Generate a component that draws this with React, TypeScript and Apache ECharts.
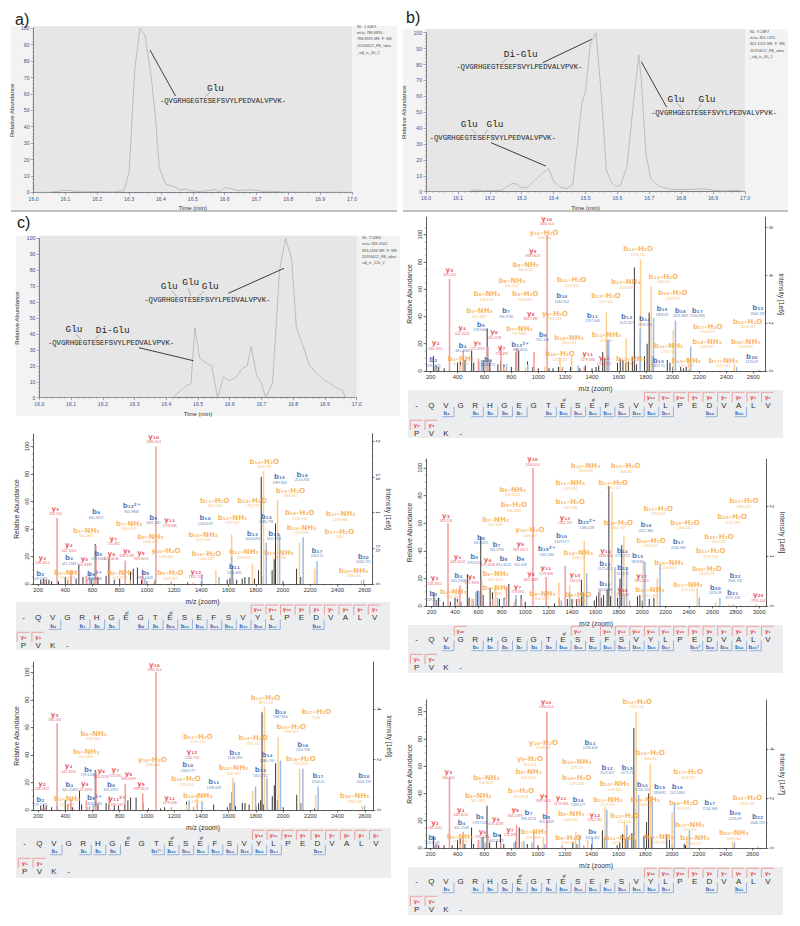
import React, { useEffect, useRef } from "react";
import * as echarts from "echarts";

type Pt = [number, number];
type Lab = [string, string, number, number];

// ---------- chromatograms ----------
const chromA: Pt[] = [[16,0],[16.05,0],[16.08,0.7],[16.1,1.2],[16.12,0.9],[16.14,0.3],[16.2,0.4],[16.25,0.2],[16.284,1],[16.3,12],[16.318,75],[16.334,100],[16.35,96],[16.37,70],[16.383,45],[16.395,15],[16.415,5],[16.44,3.5],[16.46,1.5],[16.478,2],[16.49,1],[16.52,0.5],[16.55,1],[16.57,1.8],[16.585,0.3],[16.6,2.8],[16.62,2.3],[16.64,1],[16.68,1.5],[16.72,0.6],[16.75,0.6],[16.8,0.1],[17,0]];
const chromB: Pt[] = [[16,0],[16.13,0],[16.155,1.2],[16.18,0.5],[16.22,0.9],[16.235,0.7],[16.27,5.2],[16.285,4.8],[16.3,2.3],[16.32,3],[16.34,7],[16.37,12.5],[16.385,14.5],[16.4,6.5],[16.42,3],[16.44,2],[16.46,4.5],[16.475,30],[16.488,55],[16.5,63],[16.515,93],[16.533,100],[16.55,60],[16.565,14],[16.58,6],[16.595,3.3],[16.61,4],[16.63,16],[16.65,55],[16.667,86],[16.675,70],[16.69,23],[16.705,8],[16.73,3.5],[16.77,1.3],[16.8,1.2],[16.87,1.8],[16.9,1],[16.93,0.4],[16.97,1],[16.985,0.4],[17,0]];
const chromC: Pt[] = [[16,0],[16.42,0],[16.46,7],[16.478,9],[16.49,44],[16.505,25],[16.52,22.5],[16.543,20],[16.562,0],[16.58,13],[16.6,10.5],[16.62,13],[16.64,18.5],[16.655,20],[16.667,32],[16.685,14],[16.7,9],[16.713,0],[16.735,9],[16.757,80],[16.776,100],[16.795,87],[16.81,44],[16.83,33],[16.85,21],[16.87,16],[16.9,10.5],[16.91,10],[16.93,7],[16.955,4.5],[16.965,0],[17,0]];

const infoA = ["NL: 1.60E9", "m/z= 788.8859-", "788.8935 MS  F: MS", "20190612_FB_sdea", "_sdj_tc_60_2"];
const infoB = ["NL: 9.24E7", "m/z= 801.1475-", "801.1555 MS  F: MS", "20190612_FB_sdea", "_sdj_tc_60_2"];
const infoC = ["NL: 7.02E6", "m/z= 833.4102-", "833.4186 MS  F: MS", "20190612_FB_sdea", "sdj_tc_120_2"];
const peptide = "-QVGRHGEGTESEFSVYLPEDVALVPVK-";

// ---------- spectrum 1 (top right) ----------
const s1Black: Pt[] = [[220,11],[240,4],[260,3],[300,2],[340,2],[400,6],[420,7],[455,8],[505,15],[520,6],[560,5],[590,8],[620,31],[640,7],[700,5],[720,7],[745,5],[800,3],[835,14],[855,15],[920,7],[960,3],[1000,2],[1080,2],[1110,2],[1150,3],[1180,2],[1240,3],[1310,2],[1350,4],[1400,2],[1430,3],[1450,4],[1480,14],[1495,9],[1590,6],[1610,9],[1630,8],[1650,6],[1670,7],[1700,10],[1715,76],[1730,5],[1790,11],[1810,20],[1825,43],[1845,11],[1960,8],[1980,6],[2000,3],[2060,3],[2080,2],[2100,3],[2130,1]];
const s1Red: Pt[] = [[246,3],[340,67.6],[442,15],[555,9],[626,18],[723,19],[840,17],[969,14],[1066,100],[1179,2],[1342,3]];
const s1Blue: Pt[] = [[229,3],[441,6],[578,8],[603,8],[764,5],[922,5],[1180,3],[1297,4],[1514,23],[1525,23],[1758,31],[1858,39],[2021,37],[2134,18],[2476,3],[2646,0.7]];
const s1Orange: Pt[] = [[423,4],[561,7],[618,4],[747,3],[905,3],[1048,3],[1162,10],[1249,11],[1507,43],[1655,24],[1761,82],[1840,62],[2005,30],[2116,10],[2459,5],[2628,0.5]];
const s1Labels: Lab[] = [
["y₁₀","1066.614",1063,110.3],["y₁₀–H₂O","1048.604",1043,99.8],["y₉","969.5613",959,86.8],["b₈–NH₃","905.4224",907,76.5],["b₈–NH₃","804.3747",805,64.7],["b₆–NH₃","618.3107",619,54.9],["b₈–H₂O","904.4384",904,54.7],["y₃","340.234",339,73],["b₅–NH₃","561.2892",562,42.2],["b₇","764.3790",760,42.4],["y₈","840.5189",944,40.4],["y₉–H₂O","951.551",1125,40.4],["b₁₀","1180.554",1175,53.4],["b₁₁–H₂O","1249.556",1249,65.2],["b₁₃–NH₃","1655.693",1651,63.5],["b₁₂–H₂O","1507.641",1504,53.4],["b₁₄–H₂O","1761.741",1743,88],["b₁₅–H₂O","1840.81",1931,67.6],["b₁₆–H₂O","2005.875",2000,55.4],["b₁₁","1297.566",1403,39.2],["b₁₂","1525.657",1658,38],["b₁₄","1758.752",1792,36.5],["b₁₅","1858.82",1921,44],["b₁₆","2021.884",2057,42.6],["b₁₇","2134.968",2184,42.6],["b₂₂","2646.195",2633,44.6],["b₂₂–H₂O","2628.185",2558,34.6],["b₁₇–H₂O","2116.957",2261,30.9],["b₁₈–NH₃","2204.957",2256,20],["b₂₀–NH₃","2459.064",2543,20],["b₂₀","2476.09",2588,9],["b₁₇–NH₃","2117.941",2377,6],["b₁₅–NH₃","1841.786",2100,6],["b₁₅","1822.70",1894,6],["b₁₄–NH₃","1742.725",1968,16.7],["b₁₁–NH₃","1250.54",1507,24.8],["b₁₀–NH₃","1163.558",1229,22.8],["b₁₀–H₂O","1162.524",1162,11],["y₁₁","1179.686",1368,11],["y₁₂","1342.762",1490,8],["b₁₂–NH₃","1508.61",1688,7.6],["b₁₃²⁺","839.9605",865,17.9],["b₇–NH₃","747.8583",860,29.4],["b₉","922.449",1033,25.2],["y₇","723.492",728,15.2],["y₆","626.4238",671,27],["b₅","578.6168",572,32.4],["y₄","442.3024",433,30],["y₅","555.3393",547,19],["b₄","441.2568",436,17],["y₂","246.1812",237,19],["b₂","229.1545",220,6.4],["b₄–NH₃","424.2303",423,7.4],["b₆","603.3372",627,6.9]];
const s1BIons: Pt[] = [[2,2],[4,4],[5,5],[6,6],[7,7],[9,9],[10,10],[11,11],[12,12],[13,13],[14,14],[15,15],[16,16],[17,17],[20,20],[22,22]];

// ---------- spectrum 2 (middle left) ----------
const s2Black: Pt[] = [[220,3],[240,4],[260,3],[280,3],[300,2],[350,2],[400,5],[420,3],[480,4],[500,14],[530,5],[590,4],[620,29],[640,5],[700,6],[720,18],[760,3],[800,4],[880,9],[900,11],[930,12],[960,3],[1000,2],[1060,3],[1300,1],[1400,2],[1590,3],[1610,4],[1620,6],[1630,13],[1660,3],[1700,4],[1720,5],[1750,5],[1790,4],[1820,10],[1840,78],[1855,5],[1920,10],[1935,18],[1945,44],[1960,7],[2000,2],[2100,11],[2130,5],[2230,1.5]];
const s2Red: Pt[] = [[246,3],[340,48],[442,10],[555,6],[626,28],[725,20],[840,17],[969,10],[1066,100],[1179,2],[1342,1]];
const s2Blue: Pt[] = [[229,2],[441,5],[578,8],[605,5],[985,4],[1051,1],[1405,7],[1530,5],[1622,20],[1634,4],[1877,30],[1975,36],[2148,34],[2250,16.5],[2592,3]];
const s2Orange: Pt[] = [[424,3],[561,4],[618,3],[876,3],[1004,2],[1507,10],[1623,36],[1775,15],[1857,82],[1960,61],[2121,30],[2233,11],[2575,2.5]];
const s2Labels: Lab[] = [
["y₁₀","1066.614",1050,105.6],["b₁₄–H₂O","1870.794",1862,87.4],["b₁₅","1987.864",1975,76.2],["b₁₆","2150.926",2141,77.9],["b₁₅–H₂O","1969.852",2055,66.3],["b₁₁–H₂O","1507.641",1499,59],["b₁₃–H₂O","1755.752",1774,59.2],["b₁₆–H₂O","2132.916",2123,50],["b₁₇–NH₃","2249.984",2424,49.3],["b₁₄","1886.794",1877,47.3],["b₁₂–NH₃","1637.667",1628,46.6],["y₁₁","1179.686",1167,44.9],["b₁₀","1405.619",1428,46.4],["b₉","1051.492",1047,46.8],["b₁₃²⁺","901.9848",888,55],["b₆","605.3372",627,50.7],["y₃","340.234",327,53.4],["b₇–NH₃","876.3909",869,42.5],["b₅–NH₃","561.2892",554,37.4],["b₈–NH₃","1004.465",1025,32.8],["b₁₀–NH₃","1421.595",1413,34.5],["b₁₇–H₂O","2246",2414,36.4],["b₁₅–NH₃","1970.836",2136,39.6],["b₁₂","1634.694",1775,35],["b₁₃","1801.752",1933,35],["y₇","725.492",754,31.6],["y₄","442.3024",427,26.7],["y₁₀–H₂O","1048.604",1140,22.3],["b₁₁–NH₃","1509.625",1713,21.6],["b₁₀–H₂O","1420.609",1438,20.6],["b₁₃–NH₃","1784.768",1970,21.1],["y₈","840.5189",852,22.6],["y₆","626.4238",739,20.6],["b₅","578.6168",642,20.6],["y₉","969.5613",957,20.9],["b₄","441.2568",427,17.2],["y₅","555.3393",542,16.7],["y₂","246.1812",232,17.5],["b₁₇","2264.01",2250,22.8],["b₂₀","2605.192",2590,18.2],["b₂₀–NH₃","2588.166",2517,8],["b₈","985.4409",988,6.6],["b₆–NH₃","618.3107",803,6.8],["b₉–H₂O","1033.481",1172,6.3],["y₁₂","1342.762",1360,7.3],["b₁₁","1622.681",1643,10.9],["b₂","229.1545",217,6],["b₄–NH₃","424.2303",415,6.6],["b₆²⁺","303.6684",615,6]];
const s2BIons: Pt[] = [[2,2],[4,4],[5,5],[6,6],[8,8],[9,9],[10,10],[11,11],[12,12],[13,13],[14,14],[15,15],[16,16],[17,17],[20,20]];

// ---------- spectrum 3 (middle right) ----------
const s3Black: Pt[] = [[220,10],[240,4],[260,6],[300,3],[360,3],[400,6],[420,5],[450,3],[505,23],[520,6],[590,11],[620,50],[640,8],[700,13],[720,10],[745,13],[780,5],[820,6],[860,16],[920,5],[965,8],[1000,3],[1250,2],[1290,6],[1360,5],[1400,5],[1440,5],[1480,19],[1495,10],[1590,4],[1610,7],[1630,10],[1650,6],[1670,8],[1700,12],[1715,87],[1730,7],[1790,6],[1810,20],[1825,44],[1845,8],[1960,7],[1980,8],[2000,4],[2060,5],[2100,6],[2130,2]];
const s3Red: Pt[] = [[246,3],[340,60],[442,15],[555,5],[626,20],[723,5],[840,14],[969,5],[1066,100],[1179,21],[1342,29],[1461,6],[1638,12],[1892,4],[2976,1]];
const s3Blue: Pt[] = [[229,3],[441,3],[578,10],[605,11],[764,6],[821,5],[922,8],[1181,3],[1309,4],[1380,10],[1525,24],[1767,28],[1867,28],[2023,32],[2152,30],[2488,6],[2664,6],[2778,1]];
const s3Orange: Pt[] = [[424,3],[540,5],[747,13],[905,3],[1288,17],[1380,15],[1505,47],[1741,83],[1843,51],[2009,32],[2129,20],[2470,13],[2628,3],[2741,1],[2840,1]];
const s3Labels: Lab[] = [
["y₁₀","1066.614",1063,104.8],["b₁₂–NH₃","1509.625",1516,100],["b₁₅–H₂O","1840.81",1858,99.8],["b₁₁–NH₃","1479.592",1385,87.4],["b₁₄–H₂O","1741.741",1753,87.9],["b₈–NH₃","905.4224",892,82.8],["b₈–H₂O","904.4384",904,71.4],["b₁₁–H₂O","1479.598",1385,73.8],["b₂₄–H₂O","2840.027",2870,74.3],["b₁₇–H₂O","2116.957",2137,69],["b₂₃–H₂O","2741.299",2770,63],["y₃","340.234",322,63.9],["b₇–NH₃","747.3585",747,61],["y₁₂","1342.762",1340,62.5],["b₂₃²⁺","1380.148",1525,59.3],["b₁₃–H₂O","1656.709",1795,58.8],["b₁₈–H₂O","2345.052",2365,59],["b₁₆","2021.884",2032,56.9],["y₁₀–H₂O","1048.604",1040,53.5],["b₁₀","1309.577",1311,49.2],["b₂₂–H₂O","2628.185",2656,48.7],["b₆","605.3372",622,47.9],["b₇","764.3790",755,43],["b₁₆–H₂O","2005.875",2075,45.8],["b₁₇","2134.968",2308,44.8],["y₉","969.5613",958,43.3],["b₁₉²⁺","1181.083",1183,39.5],["b₁₄","1758.752",1830,38.7],["b₂₁–H₂O","2557.148",2585,38.3],["y₁₄","1638.860",1687,38.7],["b₁₀–NH₃","1292.53",1454,37],["b₅","578.6158",565,33.9],["b₈","821.4013",815,32.4],["b₉","922.449",958,32.4],["y₆","626.4238",679,32],["y₄","442.3024",422,34.4],["b₁₅","1858.82",1961,34.6],["b₁₂","1525.651",1681,29],["b₁₈–NH₃","2204.957",2228,30],["b₁₃","1675.72",1832,26],["y₁₁","1179.686",1177,25.9],["b₂₀–H₂O","2458.079",2553,25.7],["y₈","840.5189",1049,21.5],["b₄","441.2568",428,20.6],["y₅","555.3393",542,19.4],["y₂","246.1812",226,18.6],["y₁₃","1461.8",1425,20.8],["y₁₇","1892.005",1995,20.6],["b₂₂","2646.195",2793,20.6],["b₁₇–NH₃","2117.941",2391,13.8],["y₇","723.492",935,12.6],["b₁₁","1513.668",1681,14.3],["b₂₀","2476.09",2624,11.9],["b₂₁","2575.158",2773,8.2],["y₂₅","2976.440",2992,6.3],["b₂","229.1545",214,7],["b₄–NH₃","424.2303",385,9],["b₅–NH₃","561.2892",747,11.4],["b₆–NH₃","618.3107",747,21.5],["b₈–NH₃","804.3747",1146,7.5],["b₁₅–NH₃","1841.786",2066,9.9],["y₁₅","1651.88",1832,10.4],["b₉–H₂O","1033.481",1454,6.5]];
const s3BIons: Pt[] = [[2,2],[4,4],[5,5],[6,6],[7,7],[8,8],[9,9],[10,10],[11,11],[12,12],[13,13],[14,14],[15,15],[16,16],[17,17],[19,19],[20,20],[21,21],[22,22],[23,23]];

// ---------- spectrum 4 (bottom left) ----------
const s4Black: Pt[] = [[220,3],[240,4],[260,3],[300,2],[340,3],[400,7],[420,4],[455,2],[505,14],[520,4],[560,2],[620,29],[640,4],[700,5],[720,4],[760,3],[790,3],[835,4],[860,7],[880,9],[920,9],[970,5],[1010,1],[1100,1],[1130,2],[1290,6],[1370,5],[1490,4],[1590,2],[1610,5],[1625,13],[1650,3],[1700,5],[1720,5],[1750,4],[1800,3],[1820,5],[1835,7],[1845,71],[1855,4],[1920,10],[1935,18],[1945,34],[1960,7],[2000,2],[2100,11],[2130,5],[2230,1]];
const s4Red: Pt[] = [[246,2],[340,63],[442,8],[555,7],[626,28],[723,10],[840,19],[969,12],[1066,100],[1179,2],[1342,2]];
const s4Blue: Pt[] = [[229,1],[441,3],[578,3],[605,4],[1309,7],[1405,6],[1642,20],[1797,17],[1882,23],[1980,36],[2145,30],[2257,17],[2598,3]];
const s4Orange: Pt[] = [[424,3],[561,2],[618,2],[1291,4],[1368,12],[1630,23],[1775,14],[1863,75],[1963,53],[2122,30],[2238,11],[2580,3]];
const s4Labels: Lab[] = [
["y₁₀","1066.614",1055,104],["b₁₄–H₂O","1870.794",1870,80],["y₃","340.234",322,67.6],["b₁₅","1987.864",1980,70],["b₁₇–H₂O","2246",2245,69.5],["b₁₅–H₂O","1969.852",2059,59],["b₆–NH₃","618.3107",609,54],["b₁₁–H₂O","1575.590",1375,51.6],["b₁₃–H₂O","1755.752",1780,50.6],["b₅–NH₃","561.2892",553,40.9],["y₁₂","1342.762",1331,40.4],["b₁₂","1634.694",1645,40],["b₁₆","2150.926",2144,45.8],["b₁₄","1886.794",1882,38.3],["b₁₆–H₂O","2132.916",2130,35.8],["y₁₀–H₂O","1048.604",1040,34.9],["b₁₀","1309.577",1300,31.2],["b₁₂–NH₃","1637.667",1635,29],["b₅","578.6168",567,27.8],["y₆","626.4238",665,26.6],["y₇","723.492",768,27.6],["y₈","840.5189",864,24.9],["b₁₃","1801.752",1833,27.4],["b₁₇","2264.01",2257,23],["b₂₀","2605.192",2593,23],["b₁₀–H₂O","1291.566",1287,21],["b₁₁","1496.609",1491,18.6],["b₄","441.2568",430,17],["y₅","555.3393",543,17.2],["b₆","605.3372",736,17],["y₂","246.1812",229,17.7],["y₉","969.5613",957,17.7],["y₄","442.3024",425,30.3],["b₂₀–NH₃","2588.166",2524,8.5],["b₁₀–NH₃","1292.55",1373,8.5],["b₄–NH₃","424.2303",413,6.5],["b₂","229.1545",217,6],["b₈²⁺","303.6684",614,7],["y₁₁","1179.686",1167,7.3],["y₁₁²⁺","590.347",780,6.5]];
const s4BIons: Pt[] = [[2,2],[4,4],[5,5],[6,6],[9,9],[10,10],[11,11],[12,12],[13,13],[14,14],[15,15],[16,16],[17,17],[20,20]];

// ---------- spectrum 5 (bottom right) ----------
const s5Black: Pt[] = [[220,9],[240,3],[260,2],[300,2],[360,2],[400,6],[420,7],[455,3],[505,15],[520,3],[590,8],[620,31],[640,4],[690,5],[720,10],[745,3],[835,5],[860,15],[920,3],[1000,2],[1260,4],[1290,3],[1400,3],[1480,13],[1495,8],[1590,2],[1610,4],[1630,10],[1650,7],[1670,8],[1700,11],[1715,88],[1730,6],[1790,9],[1810,19],[1825,40],[1845,8],[1960,10],[1980,6],[2000,3],[2090,3],[2100,2]];
const s5Red: Pt[] = [[246,3],[340,52],[442,12],[555,6],[626,8],[723,4],[840,17],[969,12],[1066,100],[1179,2],[1342,2]];
const s5Blue: Pt[] = [[229,2],[441,3],[578,8],[605,4],[821,4],[895,5],[955,4],[1051,3],[1309,9],[1405,8],[1513,28],[1662,17],[1750,39],[1852,38],[2017,33],[2129,13],[2465,4],[2642,1]];
const s5Orange: Pt[] = [[424,3],[560,6],[880,5],[1040,8],[1281,12],[1371,6],[1500,30],[1645,19],[1732,100],[1837,62],[2000,26],[2110,9],[2450,5]];
const s5Labels: Lab[] = [
["y₁₀","1066.614",1060,105.9],["b₁₄–H₂O","1761.741",1740,105.9],["b₁₁","1496.609",1389,75.7],["y₁₀–H₂O","1048.604",1040,75.7],["b₁₅–H₂O","1840.81",1837,67.9],["y₉–H₂O","951.551",940,63.7],["b₁₀–NH₃","1292.55",1289,61.5],["b₁₇–H₂O","2116.957",2119,54.2],["b₈–NH₃","905.4175",930,54.2],["b₁₂","1525.657",1516,57.4],["b₁₃","1675.72",1665,57.4],["b₁₀–H₂O","1291.566",1289,49.8],["b₆–NH₃","618.3107",616,50.2],["b₁₂–NH₃","1509.625",1571,45.3],["b₁₄","1758.752",1777,44.9],["b₁₅","1858.82",1907,43.1],["b₁₆","2021.884",2039,43.1],["y₃","340.234",332,54.2],["b₅–NH₃","561.2892",554,37],["b₇–H₂O","875.4718",873,40],["y₉","969.5613",1042,36.8],["y₁₁","1179.686",1172,35],["b₁₀","1309.577",1299,34],["b₁₁–NH₃","1479.592",1521,33.8],["b₁₃–NH₃","1658.693",1800,33.8],["b₂₂–H₂O","2628.185",2562,35],["b₁₆–H₂O","2005.875",2086,31.4],["b₁₇","2134.968",2281,31.4],["y₈","840.5189",830,26.2],["y₄","442.3024",424,26.5],["b₇","895.4224",930,24],["b₈–NH₃","1004.465",1247,23.3],["b₂₀","2476.09",2468,24],["b₁₂–H₂O","1507.641",1648,22],["y₁₂","1342.762",1424,22.8],["b₅","578.7158",566,21],["y₆","626.4238",686,20],["b₈","955.4409",1062,21.3],["b₂₂","2646.195",2637,21],["b₄","441.2568",429,17.2],["y₂","246.1812",232,16.9],["y₇","723.492",791,11.8],["y₅","555.3393",586,10.5],["b₁₇–NH₃","2117.941",2131,15.7],["b₉","1051.492",1404,10],["b₇–NH₃","876.3909",968,10],["b₂₀–NH₃","2459.064",2460,9.3],["b₆","605.3372",691,8],["b₁₈–NH₃","2204.957",2169,5.6],["b₄–NH₃","424.2303",417,6.9],["b₂","229.1545",212,5.9],["b₉–H₂O","1033.481",1227,5.9],["b₁₁–H₂O","1479.598",1608,5.9],["b₁₄–NH₃","1742.794",1902,6.4]];
const s5BIons: Pt[] = [[2,2],[4,4],[5,5],[6,6],[7,7],[8,8],[9,9],[10,10],[11,11],[12,12],[13,13],[14,14],[15,15],[16,16],[17,17],[20,20],[22,22]];

// ---------- sequence strip ----------
const seqRow1 = "-QVGRHGEGTESEFSVYLPEDVALV";
const seqRow2 = "PVK-";
const subs = "₀₁₂₃₄₅₆₇₈₉";
const sub = (n: number) => String(n).split("").map((d) => subs[+d]).join("");
const yIonsCommon: Pt[] = [[16,12],[17,11],[18,10],[19,9],[20,8],[21,7],[22,6],[23,5],[24,4]];
const yIonsS3: Pt[] = [[3,25],[11,17],[13,15],[14,14],[15,13],[16,12],[17,11],[18,10],[19,9],[20,8],[21,7],[22,6],[23,5],[24,4]];

const FONT = "Liberation Sans";
const C = { red: "#f59a9a", blue: "#9db9e2", orange: "#ffcf91", black: "#222222" };

const spectra = [
  { black: s1Black, red: s1Red, blue: s1Blue, orange: s1Orange, labels: s1Labels, bIons: s1BIons, yIons: yIonsCommon, mods: [10, 12], bSuffix: {} as Record<number, string>,
    left: 426, right: 765, top: 217, base: 371, xMin: 165, xMax: 2687, yMax: 113, rMax: 6.45, rStep: 0.5, rTicks: [0, 2, 4, 6], rName: "Intensity [1e6]", xTicks: 2600,
    px: 408, pw: 375, py: 390, ph: 48, x0: 416.7, r1: 405, r2: 433 },
  { black: s2Black, red: s2Red, blue: s2Blue, orange: s2Orange, labels: s2Labels, bIons: s2BIons, yIons: yIonsCommon, mods: [7, 10], bSuffix: {},
    left: 33, right: 372, top: 434, base: 584, xMin: 163, xMax: 2654, yMax: 109, rMax: 2.1, rStep: 0.1, rTicks: [0, 0.5, 1, 1.5, 2], rName: "Intensity [1e6]", xTicks: 2600,
    px: 16, pw: 374, py: 602, ph: 48, x0: 23.5, r1: 617.7, r2: 645 },
  { black: s3Black, red: s3Red, blue: s3Blue, orange: s3Orange, labels: s3Labels, bIons: s3BIons, yIons: yIonsS3, mods: [10], bSuffix: { 19: "²", 23: "²" },
    left: 426, right: 766, top: 459, base: 606, xMin: 152, xMax: 3058, yMax: 106.5, rMax: 2.95, rStep: 0.25, rTicks: [0, 1, 2], rName: "Intensity [1e6]", xTicks: 3000,
    px: 408, pw: 375, py: 625, ph: 48, x0: 416.7, r1: 639, r2: 667 },
  { black: s4Black, red: s4Red, blue: s4Blue, orange: s4Orange, labels: s4Labels, bIons: s4BIons, yIons: yIonsCommon, mods: [7, 10, 12], bSuffix: { 9: "²⁺" },
    left: 33, right: 373, top: 662, base: 810, xMin: 163, xMax: 2660, yMax: 107.5, rMax: 5.87, rStep: 0.5, rTicks: [0, 2, 4], rName: "Intensity [1e6]", xTicks: 2600,
    px: 16, pw: 375, py: 828, ph: 50, x0: 24.7, r1: 843, r2: 871 },
  { black: s5Black, red: s5Red, blue: s5Blue, orange: s5Orange, labels: s5Labels, bIons: s5BIons, yIons: yIonsCommon, mods: [7, 10], bSuffix: {},
    left: 426, right: 766, top: 700, base: 848, xMin: 165, xMax: 2700, yMax: 108.6, rMax: 5.97, rStep: 0.5, rTicks: [0, 2, 4], rName: "Intensity [1e7]", xTicks: 2600,
    px: 408, pw: 375, py: 867, ph: 48, x0: 416.7, r1: 881, r2: 909 },
];

const chroms = [
  { data: chromA, left: 33.5, right: 352, top: 28.3, base: 192.3, shadeTop: 26, ox: 11, oy: 26, ow: 386, oh: 185, info: infoA, ix: 357, iy: [27.3, 33.3, 39.3, 46, 52.7] },
  { data: chromB, left: 426, right: 745, top: 32.7, base: 191.7, shadeTop: 29, ox: 403, oy: 29, ow: 385, oh: 182, info: infoB, ix: 750, iy: [31.7, 38.3, 44.3, 50.7, 57.3] },
  { data: chromC, left: 39.3, right: 356.7, top: 238.3, base: 397.7, shadeTop: 235.7, ox: 16, oy: 235.7, ow: 384, oh: 180, info: infoC, ix: 362, iy: [237.7, 244, 250.7, 257.3, 263.3] },
];

// annotation texts and leader lines of the chromatograms
const glycoTags: [string, number, number][] = [
  ["Glu", 215.5, 88], ["Di-Glu", 520.7, 54], ["Glu", 469.3, 124], ["Glu", 495, 124.3], ["Glu", 676, 99], ["Glu", 707, 99.7],
  ["Glu", 169.3, 286], ["Glu", 190.7, 282.7], ["Glu", 210.3, 286.3], ["Glu", 74, 329.3], ["Di-Glu", 112.7, 330.3],
];
const peptideTags: [number, number][] = [[223, 101], [519.3, 67.3], [492.7, 137.7], [714, 113.3], [207.3, 300], [111, 343.3]];
const leaders: [number, number, number, number][] = [
  [150, 50, 175.5, 96], [591.7, 39.3, 542.7, 62.7], [491, 142.7, 545.7, 166], [641.3, 61.7, 666.7, 107.3], [284, 268.3, 228.3, 293.3], [139, 347.7, 193.3, 360.7],
];
const ticksThin: [number, number, number, number][] = [
  [210, 92, 205, 97], [506.7, 59, 501.7, 63.3], [471.7, 129.3, 476, 134], [487.3, 130, 485, 134], [677.3, 103.3, 682.3, 109], [701, 104.3, 697.3, 109.3],
  [171.7, 290.7, 176, 295.7], [188.3, 288.3, 190.7, 295.7], [204, 291, 199.3, 295.7], [76, 334, 81, 339.3], [99.3, 335, 95, 339.3],
];
const panelTags: [string, number, number][] = [["a)", 15, 19], ["b)", 406, 17], ["c)", 17, 222]];

function barSeries(data: Pt[], color: string, w: number, axis: number, yAxis: number, z: number) {
  return {
    type: "custom", xAxisIndex: axis, yAxisIndex: yAxis, z, silent: true, clip: false, data,
    encode: { x: 0, y: 1 },
    renderItem: (_p: any, api: any) => {
      const top = api.coord([api.value(0), api.value(1)]);
      const bot = api.coord([api.value(0), 0]);
      return { type: "rect", shape: { x: top[0] - w / 2, y: top[1], width: w, height: bot[1] - top[1] }, style: { fill: color } };
    },
  };
}

function labelSeries(labels: Lab[], color: string, axis: number, yAxis: number) {
  return {
    type: "scatter", xAxisIndex: axis, yAxisIndex: yAxis, z: 6, silent: true, symbolSize: 0, clip: false,
    data: labels.map((l) => ({ value: [l[2], l[3]], nm: l[0], mz: l[1] })),
    label: {
      show: true, position: "inside", offset: [0, 2],
      formatter: (p: any) => `{n|${p.data.nm}}\n{m|${p.data.mz}}`,
      rich: {
        n: { fontFamily: "DejaVu Sans", fontWeight: "bold", fontSize: 7, lineHeight: 7, color, align: "center" },
        m: { fontFamily: FONT, fontSize: 3.5, lineHeight: 4, color, align: "center" },
      },
    },
    labelLayout: { hideOverlap: false },
  };
}

function range(from: number, to: number, step: number) {
  const out: number[] = [];
  const n = Math.floor((to - from) / step + 1e-6);
  for (let k = 0; k <= n; k++) out.push(from + k * step);
  return out;
}

function buildOption() {
  const grid: any[] = [], xAxis: any[] = [], yAxis: any[] = [], series: any[] = [], g: any[] = [];
  const textEl = (text: string, x: number, y: number, font: string, fill: string, align = "center", z = 20) => ({
    type: "text", z, silent: true, style: { text, x, y, font, fill, textAlign: align, textVerticalAlign: "middle" },
  });
  const lineEl = (a: number[], stroke: string, lw: number, z = 20) => ({
    type: "line", z, silent: true, shape: { x1: a[0], y1: a[1], x2: a[2], y2: a[3] }, style: { stroke, lineWidth: lw },
  });

  chroms.forEach((c, i) => {
    grid.push({ left: c.left, top: c.top, width: c.right - c.left, height: c.base - c.top });
    const blue = "#44508f";
    xAxis.push({
      gridIndex: i, type: "value", min: 16, max: 17, interval: 0.1, splitLine: { show: false },
      name: "Time (min)", nameLocation: "middle", nameGap: 13, nameTextStyle: { fontFamily: FONT, fontSize: 6, color: "#333" },
      axisLine: { lineStyle: { color: "#555", width: 0.7 } }, axisTick: { length: 2.5, lineStyle: { color: blue, width: 0.5 } },
      minorTick: { show: true, splitNumber: 5, length: 1.2, lineStyle: { color: blue, width: 0.4 } },
      axisLabel: { fontFamily: FONT, fontSize: 5.1, color: blue, margin: 4, formatter: (v: number) => v.toFixed(1), showMinLabel: true, showMaxLabel: true },
    });
    yAxis.push({
      gridIndex: i, type: "value", min: 0, max: 100, interval: 10, splitLine: { show: false },
      name: "Relative Abundance", nameLocation: "middle", nameGap: 19, nameRotate: 90, nameTextStyle: { fontFamily: FONT, fontSize: 6, color: "#333" },
      axisLine: { show: true, lineStyle: { color: "#555", width: 0.7 } }, axisTick: { length: 2.5, lineStyle: { color: blue, width: 0.5 } },
      minorTick: { show: true, splitNumber: 5, length: 1.2, lineStyle: { color: blue, width: 0.4 } },
      axisLabel: { fontFamily: FONT, fontSize: 5.1, color: blue, margin: 4 },
    });
    series.push({
      type: "line", xAxisIndex: i, yAxisIndex: i, data: c.data, symbol: "none", silent: true, z: 3,
      lineStyle: { color: "#aaaaaa", width: 0.7 },
    });
    g.push({ type: "rect", z: -2, silent: true, shape: { x: c.ox, y: c.oy, width: c.ow, height: c.oh }, style: { fill: "#f3f3f3" } });
    g.push({ type: "rect", z: -1, silent: true, shape: { x: c.left, y: c.shadeTop, width: c.right - c.left, height: c.base - c.shadeTop }, style: { fill: "#e6e6e6" } });
    c.info.forEach((t, k) => g.push(textEl(t, c.ix, c.iy[k], `3.8px "${FONT}"`, "#555", "left")));
  });
  g.push(lineEl([11, 211, 397, 211], "#8a8a8a", 1, -1), lineEl([403, 211, 788, 211], "#8a8a8a", 1, -1));

  const nC = chroms.length, nS = spectra.length;
  spectra.forEach((s, k) => {
    const i = nC + k;
    grid.push({ left: s.left, top: s.top, width: s.right - s.left, height: s.base - s.top });
    const ticks = range(200, s.xTicks, 200);
    xAxis.push({
      gridIndex: i, type: "value", min: s.xMin, max: s.xMax, splitLine: { show: false },
      name: "m/z (zoom)", nameLocation: "middle", nameGap: 14, nameTextStyle: { fontFamily: FONT, fontSize: 6.8, color: "#333" },
      axisLine: { lineStyle: { color: "#333", width: 0.8 } },
      axisTick: { customValues: ticks, length: 2.5, lineStyle: { color: "#333", width: 0.6 } },
      axisLabel: { customValues: ticks, formatter: (v: number) => String(v), fontFamily: FONT, fontSize: 5.8, color: "#333", margin: 3 },
    });
    const yt = range(0, 100, 20);
    yAxis.push({
      gridIndex: i, type: "value", min: 0, max: s.yMax, splitLine: { show: false },
      name: "Relative Abundance", nameLocation: "middle", nameGap: 13, nameRotate: 90, nameTextStyle: { fontFamily: FONT, fontSize: 6.7, color: "#333" },
      axisLine: { show: true, lineStyle: { color: "#333", width: 0.8 } },
      axisTick: { customValues: yt, length: 2.5, lineStyle: { color: "#333", width: 0.6 } },
      axisLabel: { customValues: yt, rotate: 90, fontFamily: FONT, fontSize: 5.8, color: "#333", margin: 3 },
    });
    series.push(barSeries(s.black, C.black, 0.9, i, i, 3));
    series.push(barSeries(s.orange, C.orange, 1.5, i, i, 4));
    series.push(barSeries(s.blue, C.blue, 1.5, i, i, 4));
    series.push(barSeries(s.red, C.red, 1.5, i, i, 5));
    const isRed = (l: Lab) => l[0][0] === "y" && !l[0].includes("–");
    const isBlue = (l: Lab) => l[0][0] === "b" && !l[0].includes("–");
    series.push(labelSeries(s.labels.filter((l) => l[0].includes("–")), "#f9a63c", i, i));
    series.push(labelSeries(s.labels.filter(isBlue), "#2c5aa8", i, i));
    series.push(labelSeries(s.labels.filter(isRed), "#e3303c", i, i));

    // sequence strip
    g.push({ type: "rect", z: -1, silent: true, shape: { x: s.px, y: s.py, width: s.pw, height: s.ph }, style: { fill: "#ecedee" } });
    const step = 14.63;
    const letter = (ch: string, col: number, y: number) => {
      g.push(textEl(ch, s.x0 + col * step, y, `8px "${FONT}"`, "#333"));
    };
    seqRow1.split("").forEach((ch, c) => letter(ch, c, s.r1));
    seqRow2.split("").forEach((ch, c) => letter(ch, c, s.r2));
    s.mods.forEach((c) => g.push(textEl("gl", s.x0 + c * step + 1, s.r1 - 5.5, `4px "${FONT}"`, "#222")));
    s.bIons.forEach(([col, n]) => {
      const cx = s.x0 + col * step;
      const suffix = (s.bSuffix as Record<number, string>)[col] || "";
      g.push({ type: "polyline", z: 20, silent: true, shape: { points: [[cx - 4, s.r1 + 11.7], [cx + 8, s.r1 + 11.7], [cx + 8, s.r1 + 1.7]] }, style: { stroke: "#7fa3d8", fill: "none", lineWidth: 0.8 } });
      g.push(textEl("b" + sub(n) + suffix, cx + 0.5, s.r1 + 8, `bold 5.2px "DejaVu Sans"`, "#3f6db5"));
    });
    const yMark = (col: number, n: number, r: number) => {
      const cx = s.x0 + col * step;
      g.push({ type: "polyline", z: 20, silent: true, shape: { points: [[cx - 6.3, r - 3], [cx - 6.3, r - 12.7], [cx + 6, r - 12.7]] }, style: { stroke: "#f08a8a", fill: "none", lineWidth: 0.8 } });
      g.push(textEl("y" + sub(n), cx, r - 8.3, `bold 5.2px "DejaVu Sans"`, "#e3484f"));
    };
    s.yIons.forEach(([col, n]) => yMark(col, n, s.r1));
    yMark(0, 3, s.r2);
    yMark(1, 2, s.r2);
  });
  spectra.forEach((s, k) => {
    const i = nC + k;
    yAxis.push({
      gridIndex: i, type: "value", position: "right", min: 0, max: s.rMax, splitLine: { show: false },
      name: s.rName, nameLocation: "middle", nameGap: 13, nameRotate: -90, nameTextStyle: { fontFamily: FONT, fontSize: 6.7, color: "#333" },
      axisLine: { show: true, lineStyle: { color: "#333", width: 0.8 } },
      axisTick: { customValues: s.rTicks, length: 2.5, lineStyle: { color: "#333", width: 0.6 } },
      axisLabel: { customValues: s.rTicks, rotate: -90, fontFamily: FONT, fontSize: 5, color: "#333", margin: 3 },
    });
  });
  // a second, label-free set of axes on each spectrum draws its minor ticks
  spectra.forEach((s, k) => {
    const gi = nC + nS + k;
    grid.push({ left: s.left, top: s.top, width: s.right - s.left, height: s.base - s.top });
    const minorAxis = (extra: any, vals: number[]) => ({
      gridIndex: gi, type: "value", splitLine: { show: false }, axisLine: { show: false },
      axisLabel: { show: false }, axisTick: { customValues: vals, length: 1.3, lineStyle: { color: "#333", width: 0.4 } }, ...extra,
    });
    xAxis.push(minorAxis({ position: "bottom", min: s.xMin, max: s.xMax }, range(200, s.xTicks + 50, 50)));
    yAxis.push(minorAxis({ position: "left", min: 0, max: s.yMax }, range(0, 105, 5)));
    yAxis.push(minorAxis({ position: "right", min: 0, max: s.rMax }, range(0, s.rMax, s.rStep)));
  });

  glycoTags.forEach(([t, x, y]) => g.push(textEl(t, x, y, `9.4px "Liberation Mono"`, "#222")));
  peptideTags.forEach(([x, y]) => g.push(textEl(peptide, x, y, `7.25px "Liberation Mono"`, "#1e1e1e")));
  leaders.forEach((l) => g.push(lineEl(l, "#2a2a2a", 0.9)));
  ticksThin.forEach((l) => g.push(lineEl(l, "#777", 0.5)));
  panelTags.forEach(([t, x, y]) => g.push(textEl(t, x, y, `16px "${FONT}"`, "#222", "left")));

  return { animation: false, backgroundColor: "#fff", grid, xAxis, yAxis, series, graphic: { elements: g } };
}

export default function App() {
  const ref = useRef<HTMLDivElement>(null);
  useEffect(() => {
    const chart = echarts.init(ref.current!, undefined, { renderer: "svg", width: 800, height: 926 });
    chart.setOption(buildOption() as any);
    return () => chart.dispose();
  }, []);
  return <div ref={ref} style={{ position: "absolute", left: 0, top: 0, width: 800, height: 926 }} />;
}
